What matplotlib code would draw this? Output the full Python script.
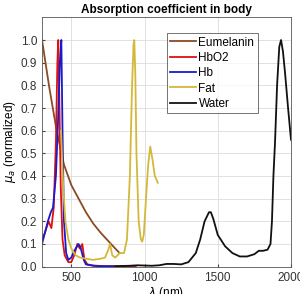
import numpy as np
import matplotlib
matplotlib.use("Agg")
import matplotlib.pyplot as plt

plt.rcParams['font.family'] = ['Liberation Sans', 'DejaVu Sans']

# absorption spectra, normalized
eumelanin_wl = [300, 350, 400, 450, 500, 550, 600, 650, 700, 750, 800, 830]
eumelanin_mu = [1.0, 0.79, 0.6, 0.45, 0.36, 0.3, 0.24, 0.19, 0.15, 0.115, 0.08, 0.06]

hbo2_wl = [300, 320, 345, 364, 380, 395, 405, 411, 418, 428, 440, 455, 480, 500, 520, 541, 558, 575, 590, 610, 650, 700, 800, 900, 940]
hbo2_mu = [0.12, 0.15, 0.2, 0.17, 0.26, 0.55, 0.9, 1.0, 0.75, 0.35, 0.12, 0.05, 0.02, 0.02, 0.05, 0.1, 0.08, 0.1, 0.03, 0.01, 0.005, 0.003, 0.002, 0.002, 0.002]

hb_wl = [300, 320, 340, 360, 375, 395, 410, 422, 432, 440, 450, 465, 480, 500, 520, 550, 565, 585, 600, 650, 700, 790]
hb_mu = [0.1, 0.15, 0.2, 0.24, 0.26, 0.4, 0.65, 0.9, 1.0, 0.6, 0.2, 0.06, 0.03, 0.04, 0.07, 0.1, 0.08, 0.03, 0.01, 0.004, 0.002, 0.002]

fat_wl = [430, 445, 460, 480, 500, 530, 560, 600, 650, 700, 730, 750, 764, 780, 800, 830, 860, 880, 900, 915, 925, 930, 937, 945, 960, 975, 984, 995, 1010, 1025, 1039, 1055, 1070, 1091]
fat_mu = [0.6, 0.35, 0.2, 0.12, 0.08, 0.05, 0.04, 0.035, 0.03, 0.035, 0.04, 0.07, 0.1, 0.05, 0.04, 0.06, 0.06, 0.12, 0.4, 0.8, 0.98, 1.0, 0.85, 0.5, 0.2, 0.12, 0.11, 0.14, 0.3, 0.45, 0.53, 0.47, 0.4, 0.37]

water_wl = [800, 900, 950, 1000, 1050, 1100, 1150, 1200, 1250, 1300, 1350, 1380, 1410, 1440, 1453, 1470, 1500, 1550, 1600, 1650, 1700, 1750, 1780, 1810, 1840, 1860, 1870, 1880, 1891, 1905, 1920, 1932, 1945, 1960, 1980, 2000]
water_mu = [0.002, 0.004, 0.006, 0.005, 0.004, 0.006, 0.012, 0.012, 0.01, 0.02, 0.06, 0.12, 0.2, 0.24, 0.24, 0.21, 0.14, 0.09, 0.06, 0.045, 0.045, 0.055, 0.07, 0.07, 0.075, 0.1, 0.2, 0.4, 0.55, 0.8, 0.97, 1.0, 0.95, 0.85, 0.7, 0.56]

series = [
    ("Eumelanin", eumelanin_wl, eumelanin_mu, "#8b4a24"),
    ("HbO2", hbo2_wl, hbo2_mu, "#e01010"),
    ("Hb", hb_wl, hb_mu, "#1a1acc"),
    ("Fat", fat_wl, fat_mu, "#d4b83a"),
    ("Water", water_wl, water_mu, "#111111"),
]

fig = plt.figure(figsize=(3.0, 2.94), dpi=100)
ax = fig.add_axes([0.14, 0.093, 0.83, 0.848])

for name, wl, mu, col in series:
    ax.plot(wl, mu, color=col, lw=1.3, label=name)

ax.set_xlim(300, 2000)
ax.set_ylim(0, 1.1)
ax.set_xticks([500, 1000, 1500, 2000])
ax.set_yticks(np.arange(0, 1.01, 0.1))
ax.yaxis.set_major_formatter(matplotlib.ticker.FormatStrFormatter('%.1f'))
ax.tick_params(direction='in', labelsize=8.5, length=2, colors='#444444', labelcolor='#333333')
ax.grid(True, color='#dcdcdc', lw=0.6)
for s in ax.spines.values():
    s.set_color('#555555')
    s.set_linewidth(0.6)

ax.set_title('Absorption coefficient in body', fontsize=8.5, fontweight='bold', pad=3)
ax.set_xlabel(r'$\lambda$ (nm)', fontsize=8.5, labelpad=1)
ax.set_ylabel(r'$\mu_a$ (normalized)', fontsize=8.5, labelpad=2)

leg = ax.legend(loc='upper right', bbox_to_anchor=(0.867, 0.937), borderaxespad=0,
                fontsize=8.5, frameon=True, fancybox=False, edgecolor='#333333',
                handlelength=2.2, borderpad=0.3, labelspacing=0.28, handletextpad=0.2)
leg.get_frame().set_linewidth(0.6)

fig.savefig('out.png', dpi=100)
